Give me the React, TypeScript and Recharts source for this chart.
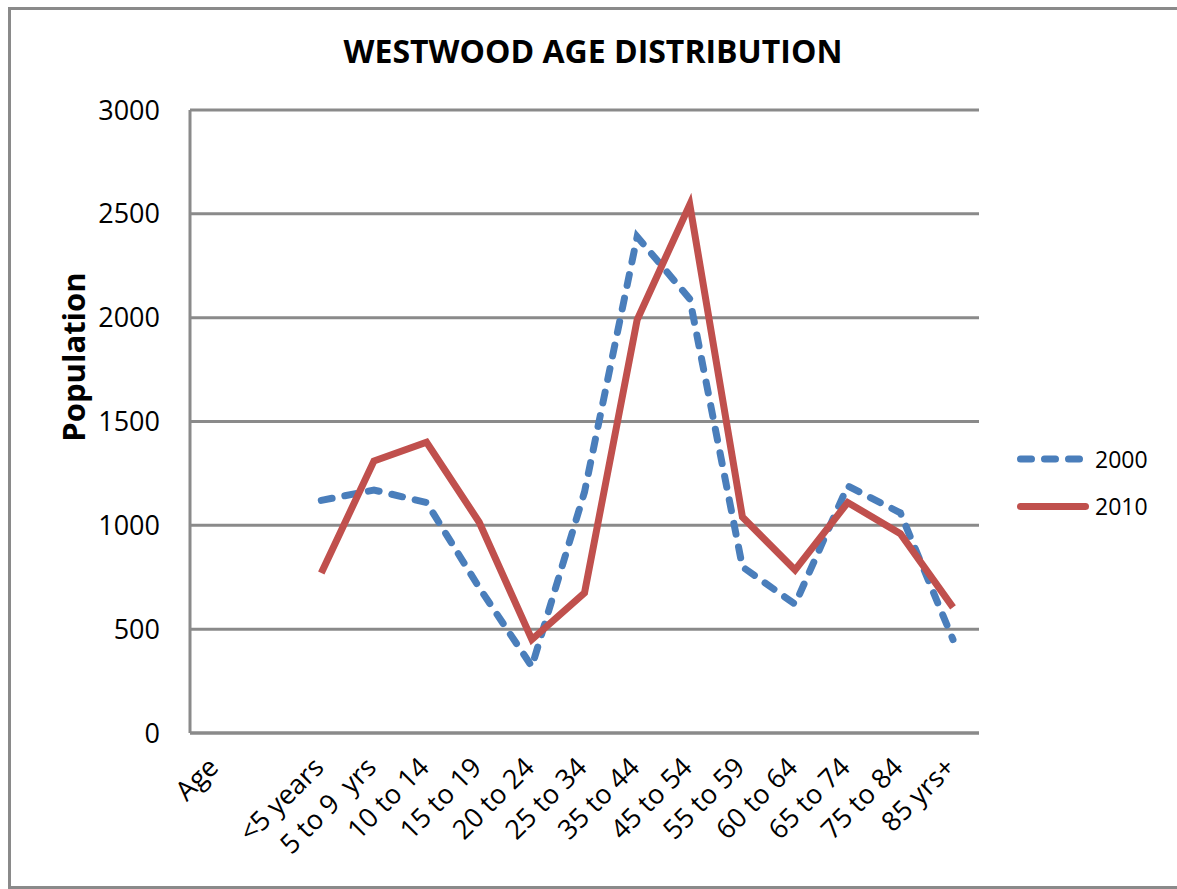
import { LineChart, Line, XAxis, YAxis, CartesianGrid, Legend } from 'recharts'

const categories = [
  'Age', '', '<5 years', '5 to 9  yrs', '10 to 14', '15 to 19', '20 to 24', '25 to 34',
  '35 to 44', '45 to 54', '55 to 59', '60 to 64', '65 to 74', '75 to 84', '85 yrs+',
]
const pop2000 = [null, null, 1120, 1170, 1110, 700, 320, 1160, 2390, 2090, 800, 620, 1190, 1060, 450]
const pop2010 = [null, null, 770, 1310, 1400, 1015, 450, 675, 1990, 2545, 1040, 785, 1110, 960, 605]
const yTicks = [0, 500, 1000, 1500, 2000, 2500, 3000]

const FONT = '"Open Sans", sans-serif'
const GRID = '#8a8a8a'
const BLUE = '#4a7ebb'
const RED = '#c0504d'

const data = categories.map((cat, i) => ({ cat, y2000: pop2000[i], y2010: pop2010[i] }))

function AgeTick({ x, y, payload }: any) {
  const tx = x + 4
  const ty = y + 36
  return (
    <text
      x={tx}
      y={ty}
      transform={`rotate(-45 ${tx} ${ty})`}
      textAnchor="end"
      fontFamily={FONT}
      fontSize={27}
      fill="#000"
      style={{ whiteSpace: 'pre' }}
    >
      {payload.value}
    </text>
  )
}

function LegendBox() {
  return (
    <svg width={170} height={100} style={{ display: 'block' }}>
      <line x1={13.5} x2={82.5} y1={29} y2={29} stroke={BLUE} strokeWidth={7}
        strokeDasharray="11 13" strokeLinecap="round" />
      <text x={88} y={37.5} fontFamily={FONT} fontSize={23} fill="#000">2000</text>
      <line x1={13.5} x2={78.5} y1={76.5} y2={76.5} stroke={RED} strokeWidth={7}
        strokeLinecap="round" />
      <text x={88} y={85} fontFamily={FONT} fontSize={23} fill="#000">2010</text>
    </svg>
  )
}

export default function App() {
  return (
    <div style={{ position: 'absolute', left: 0, top: 0, width: 1177, height: 889, background: '#fff' }}>
      <div style={{
        position: 'absolute', left: 8, top: 7, width: 1172, height: 882,
        boxSizing: 'border-box', border: `3px solid ${GRID}`,
      }} />
      <div style={{ position: 'absolute', left: 0, top: 0 }}>
        <LineChart
          width={1177}
          height={889}
          data={data}
          margin={{ top: 110, right: 198, bottom: 56, left: 0 }}
        >
          <text x={593} y={63} textAnchor="middle" fontFamily={FONT} fontWeight="bold" fontSize={32} fill="#000">
            WESTWOOD AGE DISTRIBUTION
          </text>
          <text x={85} y={357} transform="rotate(-90 85 357)" textAnchor="middle" fontFamily={FONT}
            fontWeight="bold" fontSize={31} fill="#000">
            Population
          </text>
          <CartesianGrid vertical={false} stroke={GRID} strokeWidth={3} />
          <XAxis
            dataKey="cat"
            interval={0}
            padding={{ left: 26, right: 26 }}
            height={100}
            tickLine={false}
            tickSize={0}
            tickMargin={0}
            axisLine={{ stroke: GRID, strokeWidth: 3 }}
            tick={<AgeTick />}
          />
          <YAxis
            type="number"
            domain={[0, 3000]}
            ticks={yTicks}
            width={190}
            tickLine={false}
            tickSize={0}
            tickMargin={30}
            axisLine={{ stroke: GRID, strokeWidth: 3 }}
            tick={{ fill: '#000', fontSize: 27, fontFamily: FONT }}
          />
          <Legend
            layout="vertical"
            align="center"
            verticalAlign="middle"
            wrapperStyle={{ left: 1007, top: 430, width: 170, height: 100 }}
            content={() => <LegendBox />}
          />
          <Line
            dataKey="y2000"
            type="linear"
            stroke={BLUE}
            strokeWidth={7}
            strokeDasharray="11 13"
            strokeLinecap="round"
            dot={false}
            activeDot={false}
            isAnimationActive={false}
          />
          <Line
            dataKey="y2010"
            type="linear"
            stroke={RED}
            strokeWidth={7}
            dot={false}
            activeDot={false}
            isAnimationActive={false}
          />
        </LineChart>
      </div>
    </div>
  )
}
